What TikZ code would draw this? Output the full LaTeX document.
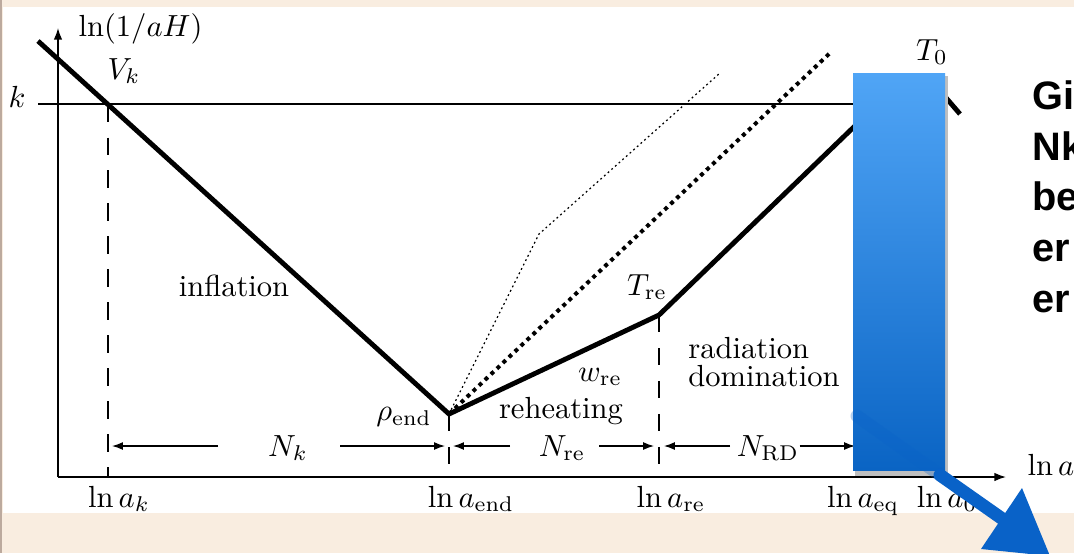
\documentclass[tikz,border=0pt]{standalone}
\usepackage{fontspec}
\newfontfamily\slidesans{Liberation Sans}
\usepackage{tikz}
\usetikzlibrary{arrows.meta,positioning}
\definecolor{slidebg}{RGB}{249,237,224}
\definecolor{slideedge}{RGB}{188,170,158}
\definecolor{bartop}{RGB}{80,165,246}
\definecolor{barbot}{RGB}{10,100,196}
\definecolor{pen}{RGB}{9,98,200}

\begin{document}
\begin{tikzpicture}[x=0.0115cm,y=-0.0115cm,
lab/.style={inner sep=0pt},
curve/.style={line width=1.6pt},
axis/.style={-{Latex[length=3.8pt,width=2.8pt]},line width=0.5pt},
arr/.style={-{Latex[length=3.6pt,width=2.6pt]},line width=0.45pt},
drop/.style={line width=0.5pt,dash pattern=on 5.6pt off 5.2pt},
fine/.style={line width=0.4pt,dash pattern=on 0.6pt off 1pt},
coarse/.style={line width=1.3pt,dash pattern=on 1.3pt off 1.4pt},
stroke/.style={pen,line width=4.2pt,line cap=round}
]
\useasboundingbox (0,0) rectangle (1074,553);
\clip (0,0) rectangle (1074,553);
\fill[slidebg] (0,0) rectangle (1074,553);
\fill[white] (3,7) rectangle (1074,513);
\fill[slideedge] (0,0) rectangle (2.5,553);

\coordinate (O) at (58,477);
\coordinate (ytop) at (58,28);
\coordinate (xend) at (1006,477);
\coordinate (kl) at (38,104);
\coordinate (kr) at (930,104);
\coordinate (c0) at (38,41);
\coordinate (vk) at (108,104.5);
\coordinate (end) at (449,414);
\coordinate (re) at (659,315);
\coordinate (eq) at (860,121);
\coordinate (peak) at (935,85);
\coordinate (c5) at (960,114);
\coordinate (bend) at (539,234);
\coordinate (fineend) at (720,73);
\coordinate (coarseend) at (830,53);
\coordinate (ak) at (108,477);
\coordinate (aend) at (449,477);
\coordinate (are) at (659,477);
\coordinate (aeq) at (860,477);
\coordinate (rk) at (108,446);
\coordinate (rend) at (449,446);
\coordinate (rre) at (659,446);
\coordinate (req) at (860,446);
\coordinate (nk1) at (218,446);
\coordinate (nk2) at (340,446);
\coordinate (nre1) at (510,446);
\coordinate (nre2) at (599,446);
\coordinate (nrd1) at (730,446);

\draw[axis] (O) -- (ytop);
\draw[axis] (O) -- (xend);
\draw[line width=0.5pt] (kl) -- (kr);
\draw[drop] (vk) -- (ak);
\draw[drop] (end) -- (aend);
\draw[drop] (re) -- (are);
\draw[line width=0.5pt] (aeq) -- (req);
\draw[fine] (end) -- (bend) -- (fineend);
\draw[coarse] (end) -- (coarseend);
\draw[curve] (c0) -- (vk) -- (end) -- (re) -- (eq) -- (peak) -- (c5);

\node[lab,anchor=west] (ylab) at (78,29) {$\ln(1/aH)$};
\node[lab] (klab) at (17,97) {$k$};
\node[lab] (vklab) at (124,71) {$V_k$};
\node[lab] (infl) at (234,286) {inflation};
\node[lab] (rho) at (404,417) {$\rho_{\rm end}$};
\node[lab] (wre) at (600,377) {$w_{\rm re}$};
\node[lab] (reh) at (561,411) {reheating};
\node[lab] (tre) at (647,287) {$T_{\rm re}$};
\node[lab,align=left] (rad) at (764,362) {radiation\\[-2.8pt]domination};

\node[lab,anchor=base] (nk) at (288,456) {$N_k$};
\node[lab,anchor=base] (nre) at (562,456) {$N_{\rm re}$};
\node[lab,anchor=base] (nrd) at (768,456) {$N_{\rm RD}$};
\draw[arr,shorten >=1.3pt] (nk1) -- (rk);
\draw[arr,shorten >=1.3pt] (nk2) -- (rend);
\draw[arr,shorten >=1.3pt] (nre1) -- (rend);
\draw[arr,shorten >=1.6pt] (nre2) -- (rre);
\draw[arr,shorten >=1.6pt] (nrd1) -- (rre);
\draw[arr,shorten >=1.6pt] (nrd.east |- rre) -- (req);

\node[lab,anchor=base] (lak) at (119,507) {$\ln a_k$};
\node[lab,anchor=base] (laend) at (471,507) {$\ln a_{\rm end}$};
\node[lab,anchor=base] (lare) at (671,507) {$\ln a_{\rm re}$};
\node[lab,anchor=base] (laeq) at (863,507) {$\ln a_{\rm eq}$};
\node[lab,anchor=base] (la0) at (947,507) {$\ln a_0$};
\node[lab,anchor=base west] (xlab) at (1027,475) {$\ln a$};

\fill[black!25] (855,76) rectangle (948,476);
\shade[top color=bartop,bottom color=barbot] (853,73) rectangle (945,470);
\node[lab] (t0) at (932,52) {$T_0$};

\coordinate (p0) at (857,416);
\coordinate (pm) at (940,475);
\coordinate (p1) at (1004,520);
\draw[stroke,opacity=0.3] (p0) -- (pm);
\draw[stroke] (pm) -- (p1);
\fill[pen] (1022,488) -- (981,549) -- (1050,556) -- cycle;

\node[lab,anchor=north west,align=left,font=\slidesans\bfseries\fontsize{13}{16.6}\selectfont] (txt) at (1032,80) {Gi\\Nk\\be\\er\\er};
\end{tikzpicture}
\end{document}
